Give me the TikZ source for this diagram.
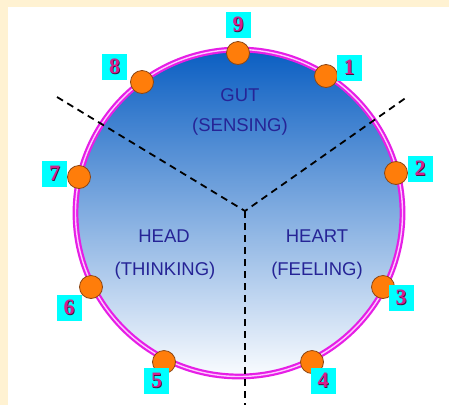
\documentclass[tikz,border=0pt]{standalone}
\usepackage{fontspec}
\setmainfont{Liberation Sans}
\newfontfamily\digitfont{Liberation Serif}
\definecolor{cream}{RGB}{255,242,210}
\definecolor{dotorange}{RGB}{255,125,10}
\definecolor{dotedge}{RGB}{140,70,20}
\definecolor{numcyan}{RGB}{0,255,255}
\definecolor{numpink}{RGB}{214,30,140}
\definecolor{numshadow}{RGB}{70,20,60}
\definecolor{zonetext}{RGB}{38,36,150}
\definecolor{ringpink}{RGB}{230,30,230}
\definecolor{ringlight}{RGB}{255,200,255}
\definecolor{skytop}{RGB}{10,94,194}
\definecolor{skymid}{RGB}{140,182,228}
\definecolor{skybottom}{RGB}{250,252,255}
% embossed digit: dark copy slightly offset beneath the pink one
\newcommand\embnum[1]{\rlap{\kern0.9pt\raisebox{-0.9pt}{\color{numshadow}#1}}#1}
\begin{document}
\begin{tikzpicture}[x=1pt,y=-1pt,
  dot/.style={circle, fill=dotorange, draw=dotedge, line width=0.8pt,
    minimum size=23pt, inner sep=0pt},
  numbox/.style={fill=numcyan, minimum width=25pt, minimum height=26pt,
    inner sep=0pt, text=numpink,
    font=\digitfont\bfseries\fontsize{22}{22}\selectfont},
  zone/.style={font=\fontsize{18.5}{21}\selectfont, text=zonetext},
  divider/.style={draw=black, line width=1.8pt, dash pattern=on 7pt off 5pt}]
  % page frame
  \fill[cream] (0,0) rectangle (449,405);
  \fill[white] (8,7) rectangle (449,405);
  \useasboundingbox (0,0) rectangle (449,405);

  % the shaded disc with its double rim
  \node (ring) [circle, minimum size=327pt, inner sep=0pt,
    top color=skytop, middle color=skymid, bottom color=skybottom,
    draw=ringpink, double=ringlight, double distance=1.4pt, line width=2.2pt]
    at (239,213) {};

  % zone labels
  \node[zone] (gut)   at (240,95)  {GUT};
  \node[zone] (gutS)  at (240,127) {(SENSING)};
  \node[zone] (head)  at (164,236) {HEAD};
  \node[zone] (headS) at (165,271) {(THINKING)};
  \node[zone] (heart) at (317,236) {HEART};
  \node[zone] (heartS)at (317,271) {(FEELING)};

  % dividing lines
  \coordinate (hub)   at (245,211);
  \coordinate (nwEnd) at (57,97);
  \coordinate (neEnd) at (407,97);
  \coordinate (sEnd)  at (245,405);
  \draw[divider] (nwEnd) -- (hub) -- (neEnd);
  \draw[divider] (hub) -- (sEnd);

  % points on the rim
  \node[dot] (p9) at (238,53)  {};
  \node[dot] (p1) at (326,76)  {};
  \node[dot] (p2) at (396,173) {};
  \node[dot] (p3) at (383,287) {};
  \node[dot] (p4) at (312,362) {};
  \node[dot] (p5) at (164,362) {};
  \node[dot] (p6) at (91,287)  {};
  \node[dot] (p7) at (79,177)  {};
  \node[dot] (p8) at (142,82)  {};

  % numbered tags
  \node[numbox] (n9) at (238,25)    {\embnum{9}};
  \node[numbox] (n1) at (349,68)    {\embnum{1}};
  \node[numbox] (n2) at (420,169)   {\embnum{2}};
  \node[numbox] (n3) at (401,298)   {\embnum{3}};
  \node[numbox] (n4) at (323,381)   {\embnum{4}};
  \node[numbox] (n5) at (156.5,381) {\embnum{5}};
  \node[numbox] (n6) at (69,308)    {\embnum{6}};
  \node[numbox] (n7) at (54.5,174)  {\embnum{7}};
  \node[numbox] (n8) at (114.5,67)  {\embnum{8}};
\end{tikzpicture}
\end{document}
